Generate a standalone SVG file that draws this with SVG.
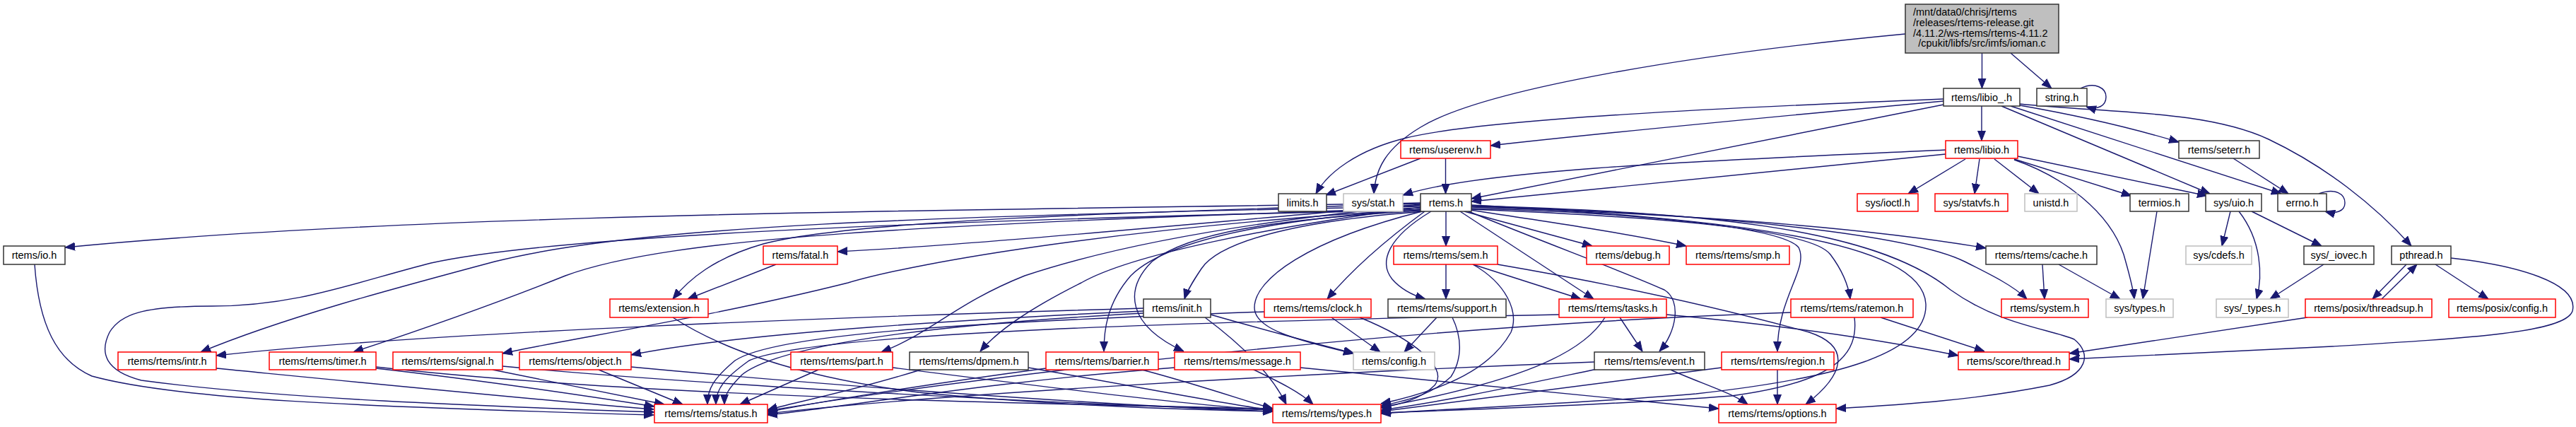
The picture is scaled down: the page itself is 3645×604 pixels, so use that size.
<svg xmlns="http://www.w3.org/2000/svg" width="3645" height="604" viewBox="0 0 3645 604">
<style>
rect{stroke-width:1.5}
.k{fill:#fff;stroke:#333}
.r{fill:#fff;stroke:#ff0000}
.g{fill:#fff;stroke:#bfbfbf}
.m{fill:#bfbfbf;stroke:#333}
text{font-family:"Liberation Sans",Arial,sans-serif;font-size:14.5px;fill:#000;text-anchor:middle}
.e path{fill:none;stroke:#191970;stroke-width:1.4;marker-end:url(#a)}
</style>
<defs>
<marker id="a" viewBox="0 0 14 12" refX="14" refY="6" markerWidth="14" markerHeight="12" markerUnits="userSpaceOnUse" orient="auto">
<path d="M0,0.5 L14,6 L0,11.5 z" fill="#191970" stroke="#191970"/>
</marker>
</defs>
<rect width="3645" height="604" fill="#fff"/>
<g class="e" id="connectors">
<path d="M2804.5,75 L2804.5,125"/>
<path d="M2845,75 L2903,125"/>
<path d="M2696,48 C2400,76 2100,125 2010,180 C1960,210 1946,240 1944,274"/>
<path d="M2944,125 C2965,115 2980,125 2980,137 C2980,150 2968,156 2952,151"/>
<path d="M2804,150 L2804,199"/>
<path d="M2750,140 C2450,152 2100,168 1990,195 C1920,212 1878,245 1862,274"/>
<path d="M2750,143 C2500,166 2250,190 2109,206"/>
<path d="M2750,148 L2082,281"/>
<path d="M2858,149 C2950,165 3030,185 3083,201"/>
<path d="M2845,150 L3228,274"/>
<path d="M2832,150 L3127,274"/>
<path d="M2858,147 C2980,160 3120,155 3210,197 C3290,235 3360,290 3412,348"/>
<path d="M2010,224 L1876,276"/>
<path d="M2045.5,224 L2045.5,274"/>
<path d="M2753,212 C2450,226 2100,238 1985,276"/>
<path d="M2753,218 L2082,285"/>
<path d="M2781,225 L2700,274"/>
<path d="M2801,225 L2794,274"/>
<path d="M2822,225 L2885,274"/>
<path d="M2850,225 L3016,277"/>
<path d="M2855,221 L3123,277"/>
<path d="M2850,226 C2920,250 2985,300 3005,360 C3012,385 3018,405 3020,423"/>
<path d="M3160,224 L3238,274"/>
<path d="M3281,274 C3305,265 3318,275 3318,287 C3318,299 3305,303 3290,299"/>
<path d="M3052,299 L3032,423"/>
<path d="M3156,299 L3144,348"/>
<path d="M3168,299 C3200,340 3202,390 3193,423"/>
<path d="M3186,299 L3285,348"/>
<path d="M3288,374 L3212,423"/>
<path d="M3405,374 L3357,423"/>
<path d="M3370,423 L3420,374"/>
<path d="M3446,374 L3521,423"/>
<path d="M3468,365 C3560,375 3650,400 3640,440 C3630,470 3500,478 3300,490 C3150,498 3000,505 2928,508"/>
<path d="M3265,449 L2928,500"/>
<path d="M2890,374 L2893,423"/>
<path d="M2913,374 L3000,423"/>
<path d="M2046,299 L2046,348"/>
<path d="M2025,299 C1965,335 1950,370 1970,395 C1983,410 2000,418 2017,423"/>
<path d="M2016,299 C1960,340 1910,385 1878,423"/>
<path d="M2066,299 L2255,423"/>
<path d="M2078,299 C2190,345 2300,385 2355,410 C2380,425 2372,470 2348,497"/>
<path d="M2072,299 L2253,348"/>
<path d="M2080,297 C2200,315 2300,330 2386,348"/>
<path d="M2082,293 C2300,300 2600,315 2810,351"/>
<path d="M2082,292 C2400,300 2700,330 2780,370 C2820,390 2850,405 2868,423"/>
<path d="M2082,291 C2400,300 2650,320 2760,410 C2830,460 2900,465 2935,480 C2960,500 2955,530 2900,545 C2800,565 2700,572 2598,578"/>
<path d="M2082,295 C2300,300 2520,320 2545,350 C2560,380 2515,420 2515,497"/>
<path d="M2082,296 C2300,305 2560,320 2590,360 C2605,380 2615,400 2618,423"/>
<path d="M2082,290 C2450,310 2720,340 2725,430 C2728,500 2600,535 2400,557 C2250,570 2050,578 1954,585"/>
<path d="M2012,299 C1850,340 1775,395 1775,435 C1775,465 1830,480 1915,500"/>
<path d="M2016,299 C1800,315 1720,350 1700,380 C1690,395 1680,410 1676,423"/>
<path d="M2014,298 C1800,310 1680,330 1630,370 C1590,410 1595,460 1675,497"/>
<path d="M2012,296 C1800,310 1650,340 1600,390 C1565,430 1562,470 1562,497"/>
<path d="M2012,293 C1800,320 1600,360 1530,400 C1450,440 1410,470 1387,497"/>
<path d="M2010,290 C1800,310 1600,340 1450,390 C1350,430 1320,470 1247,498"/>
<path d="M2010,289 C1700,315 1400,345 1185,356"/>
<path d="M2010,288 C1600,300 1200,312 1080,345 C1010,365 975,395 952,423"/>
<path d="M2010,287 C1400,298 600,300 92,350"/>
<path d="M2010,292 C1300,305 900,320 700,370 C550,410 400,450 284,498"/>
<path d="M2010,294 C1300,318 950,335 800,390 C700,430 600,465 500,498"/>
<path d="M2010,296 C1600,320 1300,370 1200,400 C1000,450 800,480 711,500"/>
<path d="M2010,297 C1400,310 800,330 610,372 C500,400 420,433 300,433 C200,433 170,445 155,470 C140,500 150,525 200,538 C400,565 700,575 926,583"/>
<path d="M1618,440 C1400,450 1050,470 893,502"/>
<path d="M1618,436 C1200,448 600,470 306,503"/>
<path d="M1713,445 C1800,470 1860,485 1916,500"/>
<path d="M1705,449 C1760,490 1800,530 1820,572"/>
<path d="M1098,374 L973,423"/>
<path d="M952,449 C1000,480 1100,530 1300,555 C1500,575 1700,580 1801,582"/>
<path d="M49,374 C55,460 80,510 130,532 C250,565 500,575 925,587"/>
<path d="M306,521 C500,540 750,565 925,579"/>
<path d="M532,521 C700,540 830,560 926,575"/>
<path d="M697,523 L940,572"/>
<path d="M847,523 L966,572"/>
<path d="M532,519 C900,560 1400,570 1801,578"/>
<path d="M711,518 C1000,545 1500,572 1801,580"/>
<path d="M893,519 C1200,548 1600,575 1801,582"/>
<path d="M1158,523 L1047,572"/>
<path d="M1263,520 C1500,550 1700,575 1801,580"/>
<path d="M1303,523 C1200,555 1120,570 1086,580"/>
<path d="M1455,520 C1600,545 1750,575 1801,580"/>
<path d="M1480,521 C1300,545 1150,570 1086,583"/>
<path d="M1612,522 C1700,545 1770,570 1801,578"/>
<path d="M1662,520 C1400,540 1200,575 1086,587"/>
<path d="M1772,522 C1810,540 1840,555 1858,572"/>
<path d="M1840,520 L2432,578"/>
<path d="M1884,449 L1953,498"/>
<path d="M1924,449 C2000,480 2050,520 2030,545 C2010,565 1980,572 1954,577"/>
<path d="M1789,441 C1400,455 1100,470 1040,510 C1010,535 1001,550 1001,572"/>
<path d="M2206,445 C1700,455 1150,470 1060,510 C1025,535 1013,550 1013,572"/>
<path d="M1618,443 C1300,460 1100,490 1050,530 C1030,550 1025,560 1025,572"/>
<path d="M2033,449 L1987,498"/>
<path d="M2055,449 C2070,480 2068,510 2053,533 C2030,555 2000,565 1954,574"/>
<path d="M2046,374 L2046,423"/>
<path d="M2084,374 L2237,423"/>
<path d="M2084,374 C2130,400 2150,440 2138,470 C2110,520 2050,550 1954,571"/>
<path d="M2119,374 C2300,405 2450,440 2560,470 C2620,490 2610,530 2555,572"/>
<path d="M2292,449 L2324,497"/>
<path d="M2271,449 C2240,500 2150,540 1954,576"/>
<path d="M2358,445 C2500,458 2650,478 2771,503"/>
<path d="M2260,522 C2150,545 2050,567 1954,580"/>
<path d="M2256,512 C1800,530 1300,560 1086,585"/>
<path d="M2364,523 C2400,540 2450,555 2473,572"/>
<path d="M2515,523 L2515,572"/>
<path d="M2436,520 C2200,550 2050,570 1954,582"/>
<path d="M2661,449 L2808,497"/>
<path d="M2624,449 C2630,500 2600,540 2450,560 C2250,575 2050,580 1954,584"/>
<path d="M2534,442 C2000,460 1400,530 1086,581"/>
</g>
<g id="n_main"><rect class="m" x="2696" y="6" width="217" height="69"/>
<text x="2707" y="22" style="text-anchor:start">/mnt/data0/chrisj/rtems</text>
<text x="2707" y="37" style="text-anchor:start">/releases/rtems-release.git</text>
<text x="2707" y="51.5" style="text-anchor:start">/4.11.2/ws-rtems/rtems-4.11.2</text>
<text x="2804.5" y="66">/cpukit/libfs/src/imfs/ioman.c</text></g>
<g id="n_libio_"><rect class="k" x="2750" y="125" width="108" height="25"/><text x="2804" y="142.5">rtems/libio_.h</text></g>
<g id="n_string"><rect class="k" x="2882" y="125" width="71" height="25"/><text x="2917.5" y="142.5">string.h</text></g>
<g id="n_userenv"><rect class="r" x="1982" y="199" width="127" height="25"/><text x="2045.5" y="216.5">rtems/userenv.h</text></g>
<g id="n_libio"><rect class="r" x="2753" y="199" width="102" height="25"/><text x="2804" y="216.5">rtems/libio.h</text></g>
<g id="n_seterr"><rect class="k" x="3083" y="199" width="114" height="25"/><text x="3140" y="216.5">rtems/seterr.h</text></g>
<g id="n_limits"><rect class="k" x="1809" y="274" width="68" height="25"/><text x="1843" y="291.5">limits.h</text></g>
<g id="n_sysstat"><rect class="g" x="1901" y="274" width="84" height="25"/><text x="1943" y="291.5">sys/stat.h</text></g>
<g id="n_rtems"><rect class="k" x="2010" y="274" width="72" height="25"/><text x="2046" y="291.5">rtems.h</text></g>
<g id="n_ioctl"><rect class="r" x="2628" y="274" width="86" height="25"/><text x="2671" y="291.5">sys/ioctl.h</text></g>
<g id="n_statvfs"><rect class="r" x="2738" y="274" width="103" height="25"/><text x="2789.5" y="291.5">sys/statvfs.h</text></g>
<g id="n_unistd"><rect class="g" x="2865" y="274" width="74" height="25"/><text x="2902" y="291.5">unistd.h</text></g>
<g id="n_termios"><rect class="k" x="3014" y="274" width="83" height="25"/><text x="3055.5" y="291.5">termios.h</text></g>
<g id="n_uio"><rect class="k" x="3121" y="274" width="79" height="25"/><text x="3160.5" y="291.5">sys/uio.h</text></g>
<g id="n_errno"><rect class="k" x="3223" y="274" width="69" height="25"/><text x="3257.5" y="291.5">errno.h</text></g>
<g id="n_io"><rect class="k" x="5" y="348" width="87" height="26"/><text x="48.5" y="366">rtems/io.h</text></g>
<g id="n_fatal"><rect class="r" x="1080" y="348" width="105" height="26"/><text x="1132.5" y="366">rtems/fatal.h</text></g>
<g id="n_sem"><rect class="r" x="1972" y="348" width="147" height="26"/><text x="2045.5" y="366">rtems/rtems/sem.h</text></g>
<g id="n_debug"><rect class="r" x="2245" y="348" width="117" height="26"/><text x="2303.5" y="366">rtems/debug.h</text></g>
<g id="n_smp"><rect class="r" x="2386" y="348" width="146" height="26"/><text x="2459" y="366">rtems/rtems/smp.h</text></g>
<g id="n_cache"><rect class="k" x="2810" y="348" width="157" height="26"/><text x="2888.5" y="366">rtems/rtems/cache.h</text></g>
<g id="n_cdefs"><rect class="g" x="3093" y="348" width="93" height="26"/><text x="3139.5" y="366">sys/cdefs.h</text></g>
<g id="n_iovec"><rect class="k" x="3260" y="348" width="99" height="26"/><text x="3309.5" y="366">sys/_iovec.h</text></g>
<g id="n_pthread"><rect class="k" x="3384" y="348" width="84" height="26"/><text x="3426" y="366">pthread.h</text></g>
<g id="n_extension"><rect class="r" x="863" y="423" width="139" height="26"/><text x="932.5" y="441">rtems/extension.h</text></g>
<g id="n_init"><rect class="k" x="1618" y="423" width="95" height="26"/><text x="1665.5" y="441">rtems/init.h</text></g>
<g id="n_clock"><rect class="r" x="1789" y="423" width="151" height="26"/><text x="1864.5" y="441">rtems/rtems/clock.h</text></g>
<g id="n_support"><rect class="k" x="1964" y="423" width="167" height="26"/><text x="2047.5" y="441">rtems/rtems/support.h</text></g>
<g id="n_tasks"><rect class="r" x="2206" y="423" width="152" height="26"/><text x="2282" y="441">rtems/rtems/tasks.h</text></g>
<g id="n_ratemon"><rect class="r" x="2534" y="423" width="173" height="26"/><text x="2620.5" y="441">rtems/rtems/ratemon.h</text></g>
<g id="n_system"><rect class="r" x="2832" y="423" width="123" height="26"/><text x="2893.5" y="441">rtems/system.h</text></g>
<g id="n_systypes"><rect class="g" x="2980" y="423" width="95" height="26"/><text x="3027.5" y="441">sys/types.h</text></g>
<g id="n_sys_types"><rect class="g" x="3136" y="423" width="102" height="26"/><text x="3187" y="441">sys/_types.h</text></g>
<g id="n_threadsup"><rect class="r" x="3262" y="423" width="179" height="26"/><text x="3351.5" y="441">rtems/posix/threadsup.h</text></g>
<g id="n_posixconfig"><rect class="r" x="3465" y="423" width="151" height="26"/><text x="3540.5" y="441">rtems/posix/config.h</text></g>
<g id="n_intr"><rect class="r" x="167" y="498" width="139" height="25"/><text x="236.5" y="515.5">rtems/rtems/intr.h</text></g>
<g id="n_timer"><rect class="r" x="381" y="498" width="151" height="25"/><text x="456.5" y="515.5">rtems/rtems/timer.h</text></g>
<g id="n_signal"><rect class="r" x="556" y="498" width="155" height="25"/><text x="633.5" y="515.5">rtems/rtems/signal.h</text></g>
<g id="n_object"><rect class="r" x="735" y="498" width="158" height="25"/><text x="814" y="515.5">rtems/rtems/object.h</text></g>
<g id="n_part"><rect class="r" x="1119" y="498" width="144" height="25"/><text x="1191" y="515.5">rtems/rtems/part.h</text></g>
<g id="n_dpmem"><rect class="k" x="1287" y="498" width="168" height="25"/><text x="1371" y="515.5">rtems/rtems/dpmem.h</text></g>
<g id="n_barrier"><rect class="r" x="1480" y="498" width="159" height="25"/><text x="1559.5" y="515.5">rtems/rtems/barrier.h</text></g>
<g id="n_message"><rect class="r" x="1662" y="498" width="178" height="25"/><text x="1751" y="515.5">rtems/rtems/message.h</text></g>
<g id="n_config"><rect class="g" x="1915" y="498" width="115" height="25"/><text x="1972.5" y="515.5">rtems/config.h</text></g>
<g id="n_event"><rect class="k" x="2256" y="498" width="156" height="25"/><text x="2334" y="515.5">rtems/rtems/event.h</text></g>
<g id="n_region"><rect class="r" x="2436" y="498" width="159" height="25"/><text x="2515.5" y="515.5">rtems/rtems/region.h</text></g>
<g id="n_thread"><rect class="r" x="2771" y="498" width="157" height="25"/><text x="2849.5" y="515.5">rtems/score/thread.h</text></g>
<g id="n_status"><rect class="r" x="926" y="572" width="160" height="26"/><text x="1006" y="590">rtems/rtems/status.h</text></g>
<g id="n_types"><rect class="r" x="1801" y="572" width="153" height="26"/><text x="1877.5" y="590">rtems/rtems/types.h</text></g>
<g id="n_options"><rect class="r" x="2432" y="572" width="166" height="26"/><text x="2515" y="590">rtems/rtems/options.h</text></g>
</svg>
